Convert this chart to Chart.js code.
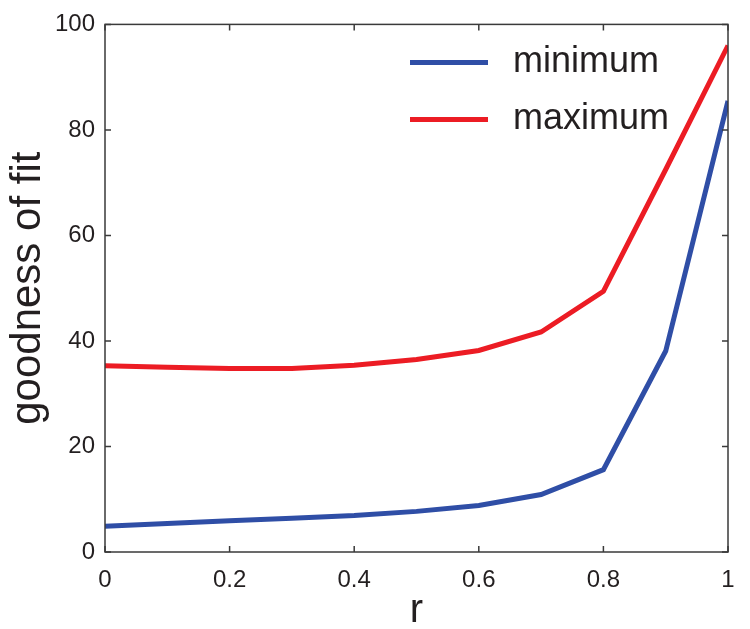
<!DOCTYPE html>
<html>
<head>
<meta charset="utf-8">
<script src="https://cdn.jsdelivr.net/npm/chart.js@4.4.0/dist/chart.umd.min.js"></script>
<style>
    html, body { margin: 0; padding: 0; background: #fff; }
    #wrap { width: 750px; height: 629px; }
</style>
</head>
<body>
<div id="wrap"><canvas id="fitChart" width="750" height="629"></canvas></div>
<script>
// values
const rValues = [0, 0.1, 0.2, 0.3, 0.4, 0.5, 0.6, 0.7, 0.8, 0.9, 1];
const minimumFit = [4.9, 5.4, 5.9, 6.4, 6.9, 7.7, 8.8, 10.9, 15.6, 38.1, 85.5];
const maximumFit = [35.3, 35.0, 34.8, 34.8, 35.4, 36.5, 38.2, 41.7, 49.4, 72.5, 96.0];
const xTicks = [0, 0.2, 0.4, 0.6, 0.8, 1];
const yTicks = [0, 20, 40, 60, 80, 100];

const fontFamily = "'Liberation Sans', Arial, sans-serif";
const inkColor = "#231f20";

// box around the plot with inward ticks on every side (matlab style)
const framePlugin = {
    id: "frame",
    afterDatasetsDraw(chart) {
        const { ctx, chartArea } = chart;
        const xs = chart.scales.x, ys = chart.scales.y;
        const len = 6;
        ctx.save();
        ctx.strokeStyle = "#3a3a3a";
        ctx.lineWidth = 1.5;
        ctx.strokeRect(chartArea.left, chartArea.top, chartArea.right - chartArea.left, chartArea.bottom - chartArea.top);
        ctx.beginPath();
        xTicks.forEach(v => {
            const px = xs.getPixelForValue(v);
            ctx.moveTo(px, chartArea.bottom);
            ctx.lineTo(px, chartArea.bottom - len);
            ctx.moveTo(px, chartArea.top);
            ctx.lineTo(px, chartArea.top + len);
        });
        yTicks.forEach(v => {
            const py = ys.getPixelForValue(v);
            ctx.moveTo(chartArea.left, py);
            ctx.lineTo(chartArea.left + len, py);
            ctx.moveTo(chartArea.right, py);
            ctx.lineTo(chartArea.right - len, py);
        });
        ctx.stroke();
        ctx.restore();
    }
};

// legend in the upper right corner, line sample then label
const cornerLegend = {
    id: "cornerLegend",
    afterDraw(chart) {
        const { ctx, chartArea } = chart;
        const x0 = chartArea.right - 318;
        ctx.save();
        ctx.font = "36px " + fontFamily;
        ctx.textBaseline = "middle";
        chart.data.datasets.forEach((ds, i) => {
            const y = chartArea.top + 38 + i * 57;
            ctx.strokeStyle = ds.borderColor;
            ctx.lineWidth = 5;
            ctx.beginPath();
            ctx.moveTo(x0, y);
            ctx.lineTo(x0 + 78, y);
            ctx.stroke();
            ctx.fillStyle = inkColor;
            ctx.fillText(ds.label, x0 + 103, y);
        });
        ctx.restore();
    }
};

const ctx = document.getElementById("fitChart").getContext("2d");
new Chart(ctx, {
    type: "line",
    data: {
        labels: rValues,
        datasets: [
            {
                label: "minimum",
                data: rValues.map((r, i) => ({ x: r, y: minimumFit[i] })),
                borderColor: "#2f4ea6",
                borderWidth: 5,
                pointRadius: 0,
                tension: 0,
                fill: false
            },
            {
                label: "maximum",
                data: rValues.map((r, i) => ({ x: r, y: maximumFit[i] })),
                borderColor: "#ec1c24",
                borderWidth: 5,
                pointRadius: 0,
                tension: 0,
                fill: false
            }
        ]
    },
    options: {
        responsive: false,
        animation: false,
        layout: { padding: { top: 24, right: 22, left: 0, bottom: 0 } },
        plugins: {
            legend: { display: false },
            tooltip: { enabled: false }
        },
        scales: {
            x: {
                type: "linear",
                min: 0,
                max: 1,
                afterBuildTicks: scale => { scale.ticks = xTicks.map(v => ({ value: v })); },
                afterFit: scale => { scale.height = 77; },
                grid: { display: false, drawTicks: false },
                border: { display: false },
                ticks: {
                    padding: 14,
                    color: inkColor,
                    font: { family: fontFamily, size: 24 },
                    maxRotation: 0,
                    callback: v => String(v)
                },
                title: {
                    display: true,
                    text: "r",
                    color: inkColor,
                    font: { family: fontFamily, size: 40, lineHeight: 0.9 },
                    padding: { top: 0, bottom: 0 }
                }
            },
            y: {
                min: 0,
                max: 100,
                afterBuildTicks: scale => { scale.ticks = yTicks.map(v => ({ value: v })); },
                afterFit: scale => { scale.width = 105; },
                grid: { display: false, drawTicks: false },
                border: { display: false },
                ticks: {
                    padding: 10,
                    color: inkColor,
                    font: { family: fontFamily, size: 24 }
                },
                title: {
                    display: true,
                    text: "goodness of fit",
                    color: inkColor,
                    font: { family: fontFamily, size: 42 },
                    padding: { top: 3, bottom: 0 }
                }
            }
        }
    },
    plugins: [framePlugin, cornerLegend]
});
</script>
</body>
</html>
